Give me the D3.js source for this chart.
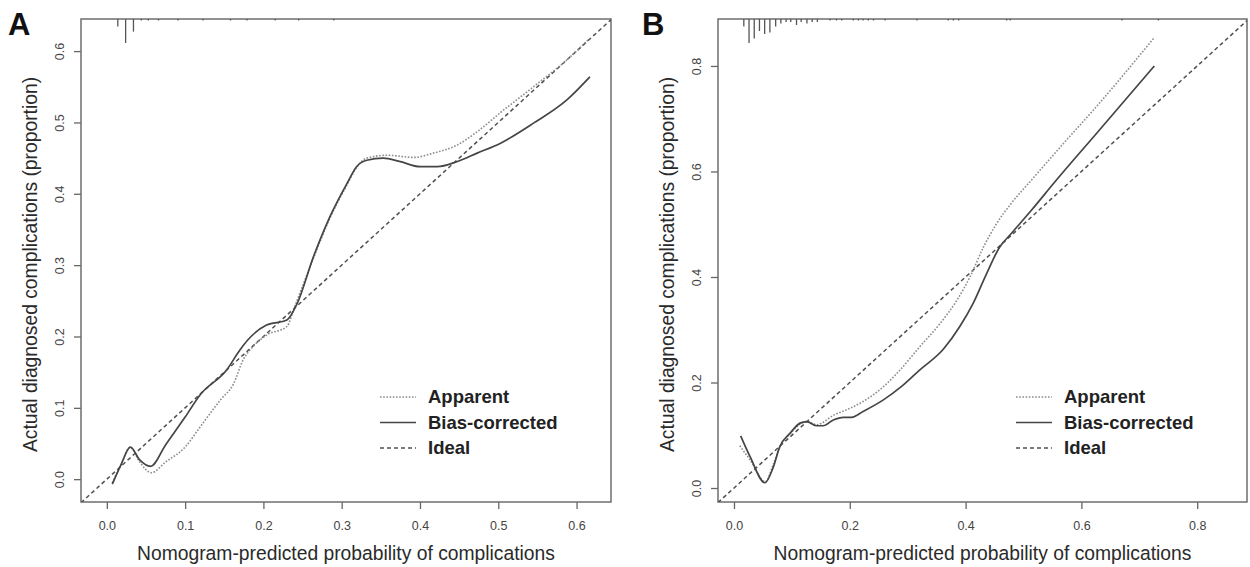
<!DOCTYPE html>
<html><head><meta charset="utf-8">
<script src="https://cdn.jsdelivr.net/npm/d3@7"></script>
<style>body{margin:0;background:#fff}svg{display:block}</style>
</head><body>
<svg id="c" width="1250" height="567"></svg>
<script>
// ---------- DATA ----------
const xTicksA = [0.0,0.1,0.2,0.3,0.4,0.5,0.6];
const yTicksA = [0.0,0.1,0.2,0.3,0.4,0.5,0.6];
const xTicksB = [0.0,0.2,0.4,0.6,0.8];
const yTicksB = [0.0,0.2,0.4,0.6,0.8];

const apparentA_x = [0.007,0.018,0.030,0.042,0.057,0.075,0.100,0.119,0.145,0.162,0.174,0.187,0.204,0.230,0.240,0.264,0.285,0.307,0.319,0.332,0.358,0.392,0.417,0.447,0.473,0.503,0.545,0.588,0.617];
const apparentA_y = [-0.005,0.020,0.045,0.024,0.009,0.024,0.045,0.073,0.111,0.134,0.167,0.186,0.202,0.214,0.242,0.310,0.366,0.413,0.437,0.450,0.454,0.451,0.457,0.468,0.487,0.514,0.550,0.588,0.618];
const biasA_x = [0.007,0.018,0.030,0.042,0.056,0.075,0.100,0.119,0.153,0.170,0.180,0.204,0.230,0.243,0.264,0.285,0.307,0.319,0.332,0.353,0.375,0.400,0.422,0.447,0.473,0.503,0.545,0.588,0.617];
const biasA_y = [-0.007,0.020,0.045,0.027,0.018,0.048,0.087,0.118,0.153,0.181,0.195,0.216,0.223,0.246,0.312,0.368,0.415,0.438,0.447,0.450,0.445,0.438,0.438,0.445,0.457,0.471,0.499,0.532,0.564];

const apparentB_x = [0.010,0.028,0.054,0.068,0.080,0.097,0.114,0.126,0.143,0.172,0.200,0.223,0.258,0.287,0.321,0.356,0.385,0.408,0.431,0.454,0.477,0.514,0.569,0.626,0.726];
const apparentB_y = [0.080,0.053,0.012,0.045,0.080,0.103,0.121,0.126,0.120,0.138,0.151,0.164,0.192,0.224,0.268,0.312,0.356,0.401,0.457,0.502,0.537,0.584,0.653,0.723,0.854];
const biasB_x = [0.0115,0.028,0.0535,0.068,0.079,0.097,0.114,0.1255,0.143,0.154,0.1715,0.189,0.203,0.223,0.258,0.290,0.321,0.3615,0.390,0.413,0.4365,0.459,0.477,0.514,0.554,0.626,0.726];
const biasB_y = [0.099,0.059,0.010,0.040,0.078,0.104,0.123,0.126,0.118,0.118,0.129,0.134,0.134,0.145,0.167,0.193,0.224,0.263,0.306,0.350,0.407,0.457,0.480,0.527,0.580,0.672,0.800];

const rugA_x = [0.014,0.024,0.034,0.044,0.053,0.066,0.091,0.123,0.158,0.179,0.215,0.245,0.290];
const rugA_n = [6,19,10,1,1,1,1,1,1,1,1,1,1];
const rugB_x = [0.017,0.026,0.035,0.044,0.053,0.062,0.072,0.081,0.090,0.098,0.108,0.116,0.126,0.135,0.144,0.166,0.177,0.186,0.206,0.215,0.223,0.232,0.241,0.261,0.316,0.370,0.379,0.388,0.471,0.477,0.670,0.733];
const rugB_n = [5,16,13,8,10,9,5,3,2,2,4,2,3,2,2,1,1,1,1,1,1,1,1,1,1,1,1,1,1,1,1,1];

const legendLabels = ["Apparent","Bias-corrected","Ideal"];
const xTitle = "Nomogram-predicted probability of complications";
const yTitle = "Actual diagnosed complications (proportion)";

// ---------- DRAW ----------
const svg = d3.select("#c");
const FONT = "'Liberation Sans', Arial, sans-serif";
const styles = {
  apparent:{stroke:"#8c8c8c", width:1.6, dash:"1.6,1.6"},
  bias:{stroke:"#454545", width:1.7, dash:null},
  ideal:{stroke:"#505050", width:1.5, dash:"4,3"}
};

function panel(cfg){
  const g = svg.append("g");
  const x = d3.scaleLinear().domain(cfg.xd).range([cfg.left, cfg.right]);
  const y = d3.scaleLinear().domain(cfg.yd).range([cfg.bottom, cfg.top]);
  const id = "clip"+cfg.label;
  svg.append("clipPath").attr("id",id).append("rect")
    .attr("x",cfg.left).attr("y",cfg.top).attr("width",cfg.right-cfg.left).attr("height",cfg.bottom-cfg.top);

  // axes
  const xa = g.append("g").attr("transform",`translate(0,${cfg.bottom})`)
    .call(d3.axisBottom(x).tickValues(cfg.xt).tickFormat(d3.format(".1f")).tickSize(7).tickPadding(12));
  const ya = g.append("g").attr("transform",`translate(${cfg.left},0)`)
    .call(d3.axisLeft(y).tickValues(cfg.yt).tickFormat(d3.format(".1f")).tickSize(7).tickPadding(10));
  [xa,ya].forEach(a=>{
    a.select(".domain").remove();
    a.selectAll(".tick line").attr("stroke","#666").attr("stroke-width",1.3);
    a.selectAll(".tick text").attr("fill","#444").style("font-family",FONT).style("font-size","12.5px");
  });
  ya.selectAll(".tick text").each(function(){
      d3.select(this).attr("x",null).attr("dy",null).attr("text-anchor","middle")
       .attr("transform",`translate(-17,0) rotate(-90)`);
  });

  // box
  g.append("rect").attr("x",cfg.left).attr("y",cfg.top)
    .attr("width",cfg.right-cfg.left).attr("height",cfg.bottom-cfg.top)
    .attr("fill","none").attr("stroke","#6e6e6e").attr("stroke-width",1.5);

  // rug (spike histogram at top)
  const h = d3.scaleLinear().domain([0,d3.max(cfg.rn)]).range([0,24]);
  g.append("g").selectAll("line").data(cfg.rx).join("line")
    .attr("x1",d=>x(d)).attr("x2",d=>x(d))
    .attr("y1",cfg.top).attr("y2",(d,i)=>cfg.top+Math.max(1.5,h(cfg.rn[i])))
    .attr("stroke","#555").attr("stroke-width",1.3);

  const plot = g.append("g").attr("clip-path",`url(#${id})`);
  const line = d3.line().x(d=>x(d[0])).y(d=>y(d[1])).curve(d3.curveMonotoneX);
  plot.append("path").datum([[cfg.xd[0],cfg.xd[0]],[cfg.xd[1],cfg.xd[1]]])
    .attr("d",d3.line().x(d=>x(d[0])).y(d=>y(d[1])))
    .attr("fill","none").attr("stroke",styles.ideal.stroke).attr("stroke-width",styles.ideal.width).attr("stroke-dasharray",styles.ideal.dash);
  plot.append("path").datum(d3.zip(cfg.ax,cfg.ay)).attr("d",line)
    .attr("fill","none").attr("stroke",styles.apparent.stroke).attr("stroke-width",styles.apparent.width).attr("stroke-dasharray",styles.apparent.dash);
  plot.append("path").datum(d3.zip(cfg.bx,cfg.by)).attr("d",line)
    .attr("fill","none").attr("stroke",styles.bias.stroke).attr("stroke-width",styles.bias.width);

  // titles
  g.append("text").attr("x",(cfg.left+cfg.right)/2).attr("y",560).attr("text-anchor","middle")
    .style("font-family",FONT).style("font-size","19.3px").attr("fill","#2a2a2a").text(xTitle);
  g.append("text").attr("transform",`translate(${cfg.left-44},${(cfg.top+cfg.bottom)/2+4}) rotate(-90)`)
    .attr("text-anchor","middle").style("font-family",FONT).style("font-size","19.3px").attr("fill","#2a2a2a").text(yTitle);
  g.append("text").attr("x",cfg.lx).attr("y",35)
    .style("font-family",FONT).style("font-size","31px").style("font-weight","bold").attr("fill","#111").text(cfg.label);

  // legend
  const keys=["apparent","bias","ideal"];
  const lg = g.append("g");
  legendLabels.forEach((lab,i)=>{
    const yy = 397 + i*25.5;
    const s = styles[keys[i]];
    lg.append("line").attr("x1",cfg.legX).attr("x2",cfg.legX+36).attr("y1",yy).attr("y2",yy)
      .attr("stroke",s.stroke).attr("stroke-width",s.width).attr("stroke-dasharray",s.dash);
    lg.append("text").attr("x",cfg.legX+48).attr("y",yy).attr("dy","0.35em")
      .style("font-family",FONT).style("font-size","18.5px").style("font-weight","bold").attr("fill","#222").text(lab);
  });
}

panel({label:"A", left:81, right:611, top:19, bottom:502, xd:[-0.033,0.644], yd:[-0.032,0.645],
  xt:xTicksA, yt:yTicksA, ax:apparentA_x, ay:apparentA_y, bx:biasA_x, by:biasA_y, rx:rugA_x, rn:rugA_n, lx:8, legX:380});
panel({label:"B", left:718, right:1247, top:19, bottom:502, xd:[-0.0276,0.886], yd:[-0.0265,0.889],
  xt:xTicksB, yt:yTicksB, ax:apparentB_x, ay:apparentB_y, bx:biasB_x, by:biasB_y, rx:rugB_x, rn:rugB_n, lx:642, legX:1016});
</script>
</body></html>
